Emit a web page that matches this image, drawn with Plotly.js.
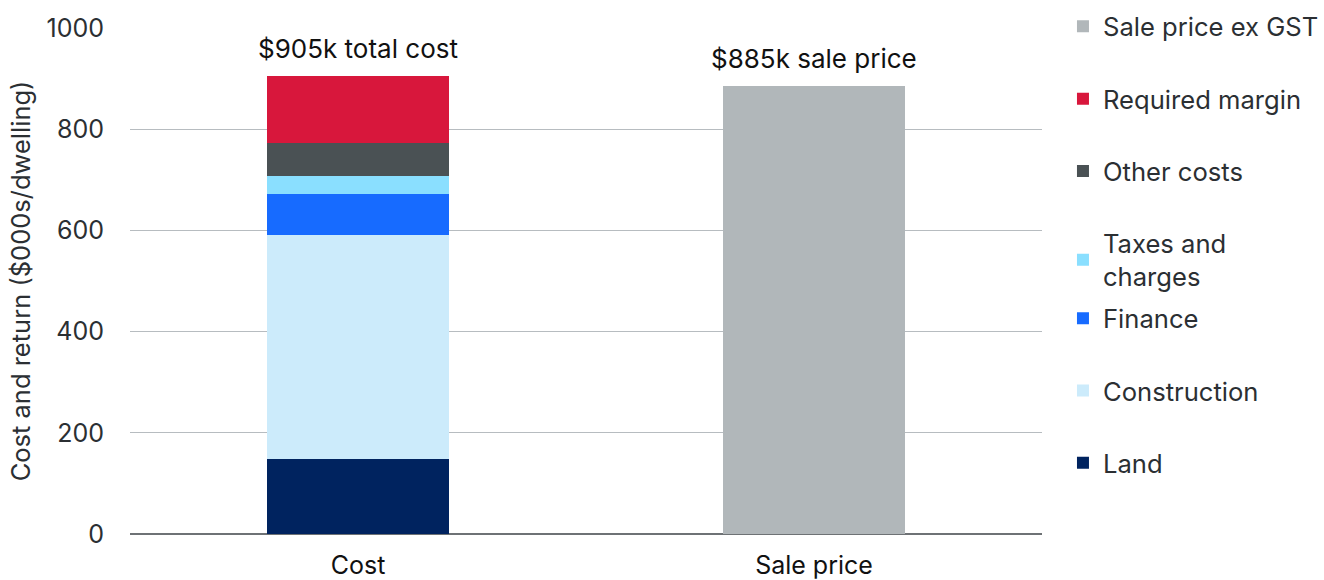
<!DOCTYPE html>
<html>
<head>
<meta charset="utf-8">
<script src="https://cdn.plot.ly/plotly-3.0.1.min.js"></script>
<style>html,body{margin:0;padding:0;background:#fff;}#chart{width:1324px;height:580px;}</style>
</head>
<body>
<div id="chart"></div>
<script>
const categories = ["Cost", "Sale price"];
const seriesNames = ["Land", "Construction", "Finance", "Taxes and<br>charges", "Other costs", "Required margin", "Sale price ex GST"];
const land = [148, null];
const construction = [443, null];
const finance = [81, null];
const taxes = [36, null];
const otherCosts = [64, null];
const margin = [133, null];
const salePrice = [null, 885];
const labels = ["$905k total cost", "$885k sale price"];
const colors = ["#00235F", "#CCEBFB", "#176BFF", "#8ADFFF", "#4A5154", "#D8173C", "#B1B7BA"];
const legendOf = ["legend2", "legend2", "legend2", "legend", "legend", "legend", "legend"];

const seriesValues = [land, construction, finance, taxes, otherCosts, margin, salePrice];
const FONT = "Inter, 'Noto Sans', sans-serif";
const traces = seriesValues.map((vals, i) => ({
  type: "bar",
  name: seriesNames[i],
  x: categories,
  y: vals,
  marker: {color: colors[i], line: {width: 0}},
  legend: legendOf[i],
  legendgroup: "g" + i,
  legendrank: 100 - i,
  hoverinfo: "name+y"
}));

const totals = categories.map((c, j) => seriesValues.reduce((s, v) => s + (v[j] || 0), 0));
const annotations = categories.map((c, j) => ({
  x: c, y: totals[j], xref: "x", yref: "y",
  text: labels[j], showarrow: false, yanchor: "bottom", yshift: 10,
  font: {family: FONT, size: 26, color: "#111"}
}));

const legendBase = {
  xanchor: "left", yanchor: "top",
  traceorder: "grouped",
  tracegroupgap: 36,
  font: {family: FONT, size: 25.6, color: "#2B2F33"},
  itemwidth: 30,
  maxheight: 1,
  bgcolor: "rgba(0,0,0,0)"
};

const layout = {
  width: 1324, height: 580,
  margin: {l: 130, r: 282, t: 28, b: 46, autoexpand: false},
  barmode: "stack",
  bargap: 0.6,
  paper_bgcolor: "#fff", plot_bgcolor: "#fff",
  font: {family: FONT, size: 24, color: "#2B2F33"},
  xaxis: {
    type: "category",
    showgrid: false, showline: false, zeroline: false,
    ticks: "outside", ticklen: 9, tickcolor: "rgba(0,0,0,0)",
    tickfont: {family: FONT, size: 25, color: "#111"}
  },
  yaxis: {
    range: [0, 1000],
    tickvals: [0, 200, 400, 600, 800, 1000],
    showgrid: true, gridcolor: "#B7BCC0", gridwidth: 1.3,
    zeroline: true, zerolinecolor: "#6E7275", zerolinewidth: 1.5,
    ticks: "outside", ticklen: 20, tickcolor: "rgba(0,0,0,0)",
    tickfont: {family: FONT, size: 25, color: "#2B2F33"},
    title: {text: "Cost and return ($000s/dwelling)", font: {family: FONT, size: 25.5, color: "#2B2F33"}, standoff: 8}
  },
  legend: Object.assign({}, legendBase, {x: 1.023, y: 1.049}),
  legend2: Object.assign({}, legendBase, {x: 1.023, y: 0.472}),
  annotations: annotations,
  showlegend: true
};

Plotly.newPlot("chart", traces, layout, {displayModeBar: false, staticPlot: true});
</script>
</body>
</html>
